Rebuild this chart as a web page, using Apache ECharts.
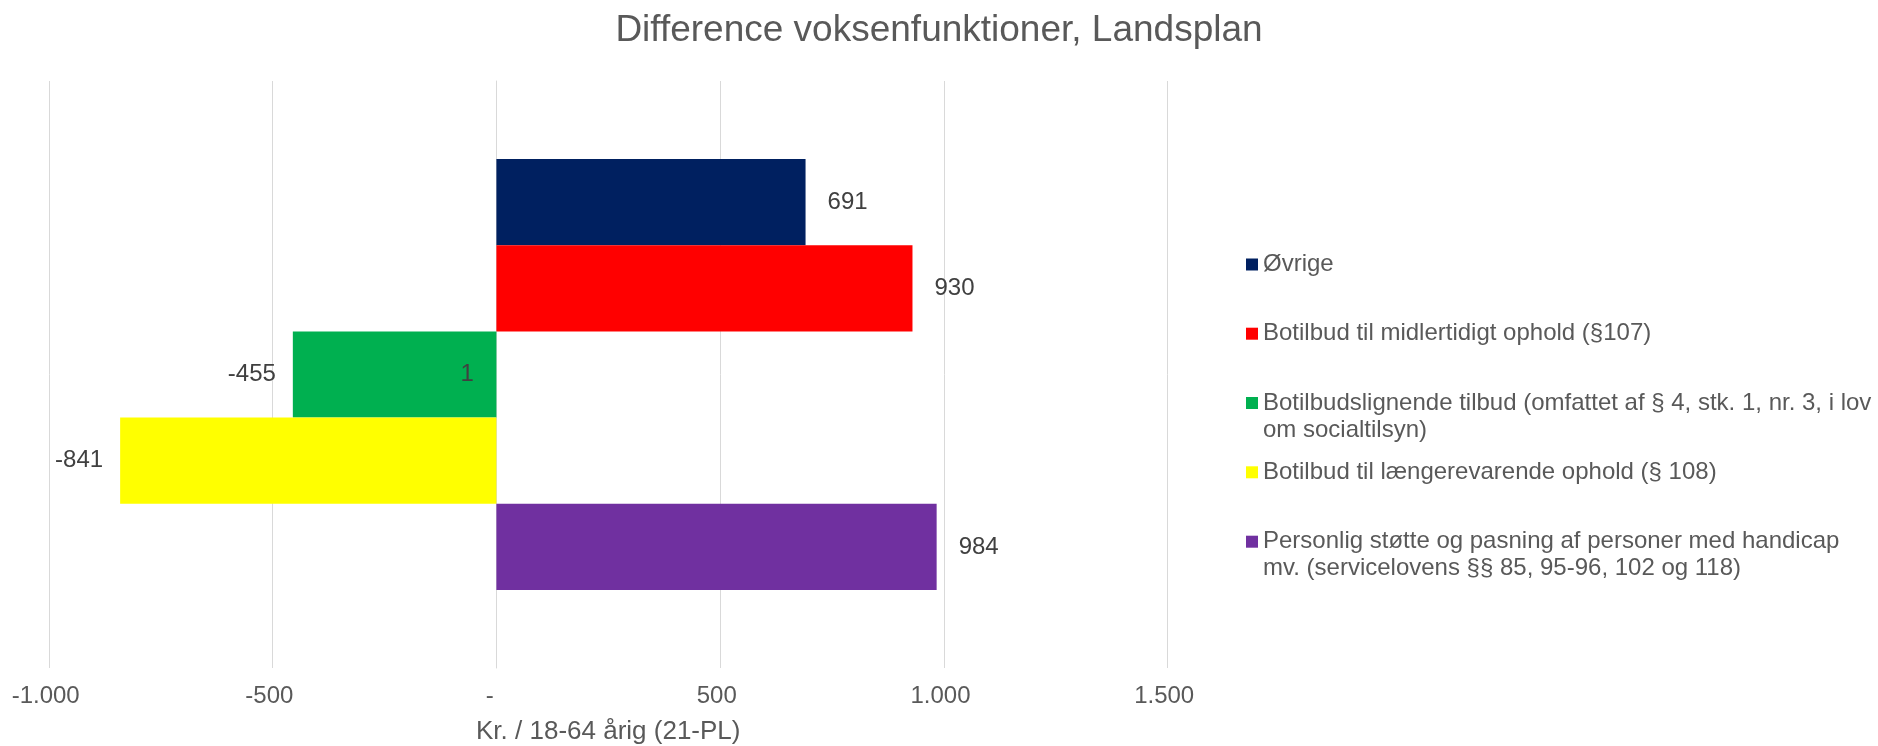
<!DOCTYPE html>
<html><head><meta charset="utf-8">
<script src="https://cdn.jsdelivr.net/npm/echarts@6/dist/echarts.min.js"></script>
<style>html,body{margin:0;padding:0;background:#fff}#c{width:1878px;height:746px}</style>
</head><body><div id="c"></div>
<script>
const categories = ['Landsplan'];
const legendLabelLines = [
  ['Øvrige'],
  ['Botilbud til midlertidigt ophold (§107)'],
  ['Botilbudslignende tilbud (omfattet af § 4, stk. 1, nr. 3, i lov', 'om socialtilsyn)'],
  ['Botilbud til længerevarende ophold (§ 108)'],
  ['Personlig støtte og pasning af personer med handicap', 'mv. (servicelovens §§ 85, 95-96, 102 og 118)']
];
const seriesNames = legendLabelLines.map(l => l.join(' '));
const seriesValues = [691, 930, -455, -841, 984];
const extraLabelValues = [1];
const xTickValues = [-1000, -500, 0, 500, 1000, 1500];
const chartTitle = 'Difference voksenfunktioner, Landsplan';
const xAxisName = 'Kr. / 18-64 årig (21-PL)';

const colors = ['#002060', '#FF0000', '#00B050', '#FFFF00', '#7030A0'];
const legendIconCenters = [264.5, 333.7, 403, 472.3, 541.7];
const FONT = '"Liberation Sans", Arial, sans-serif';
const LH = 27;

function fmt(v) {
  const s = Math.abs(v).toString().replace(/\B(?=(\d{3})+(?!\d))/g, '.');
  return (v < 0 ? '-' : '') + s;
}

const chart = echarts.init(document.getElementById('c'), null, {renderer: 'canvas'});

const legends = legendLabelLines.map((lines, i) => {
  const total = lines.length > 1 ? lines.length * 2 - 1 : 1;
  return {
    data: [seriesNames[i]],
    orient: 'vertical',
    left: 1246,
    top: legendIconCenters[i] - (LH / 2) * total,
    padding: 0,
    itemWidth: 12,
    itemHeight: 12,
    icon: 'rect',
    selectedMode: false,
    formatter: () => lines.length > 1 ? '\n' + lines.join('\n') : lines[0],
    textStyle: {fontSize: 24, color: '#595959', fontFamily: FONT, lineHeight: LH}
  };
});

chart.setOption({
  animation: false,
  backgroundColor: '#ffffff',
  title: {
    text: chartTitle,
    left: 'center',
    top: 7,
    textStyle: {fontSize: 37, fontWeight: 'normal', color: '#595959', fontFamily: FONT}
  },
  legend: legends,
  grid: {left: 49, right: 710.5, top: 81, bottom: 78, outerBoundsMode: 'none', containLabel: false},
  xAxis: {
    type: 'value',
    min: xTickValues[0],
    max: xTickValues[xTickValues.length - 1],
    interval: xTickValues[1] - xTickValues[0],
    axisLine: {show: false},
    axisTick: {show: false},
    splitLine: {show: true, lineStyle: {color: '#D9D9D9', width: 1}},
    axisLabel: {
      margin: 16, fontSize: 24, color: '#595959', fontFamily: FONT,
      formatter: v => v === 0 ? '-  ' : fmt(v) + ' '
    },
    name: xAxisName,
    nameLocation: 'middle',
    nameGap: 51,
    nameTextStyle: {fontSize: 26, color: '#595959', fontFamily: FONT}
  },
  yAxis: {
    type: 'category',
    data: categories,
    axisLabel: {show: false},
    axisTick: {show: false},
    axisLine: {show: true, onZero: true, lineStyle: {color: '#D9D9D9'}},
    splitLine: {show: false}
  },
  series: seriesNames.map((name, i) => {
    const s = {
      type: 'bar',
      name: name,
      data: [seriesValues[i]],
      barGap: '0%',
      barCategoryGap: '26.57%',
      itemStyle: {color: colors[i]},
      label: {
        show: true,
        position: seriesValues[i] < 0 ? 'left' : 'right',
        distance: seriesValues[i] < 0 ? 17 : 22,
        color: '#404040', fontSize: 24, fontFamily: FONT,
        formatter: p => fmt(p.value)
      }
    };
    if (i === 2) {
      s.markPoint = {
        symbol: 'circle',
        symbolSize: 1,
        itemStyle: {color: 'transparent'},
        data: [{coord: [0, categories[0]], value: extraLabelValues[0]}],
        label: {show: true, position: 'left', distance: 22, color: '#404040', fontSize: 24, fontFamily: FONT, formatter: '{c}'}
      };
    }
    return s;
  })
});
</script>
</body></html>
